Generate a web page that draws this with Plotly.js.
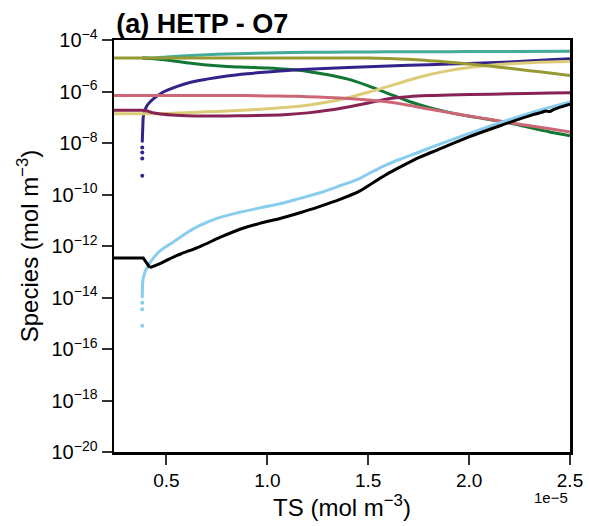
<!DOCTYPE html>
<html>
<head>
<meta charset="utf-8">
<script src="https://cdn.plot.ly/plotly-3.0.1.min.js"></script>
<style>html,body{margin:0;padding:0;background:#fff;}#chart{width:589px;height:526px;}</style>
</head>
<body>
<div id="chart"></div>
<script>
// x values are TS in units of 1e-5 mol m^-3; y values are species in mol m^-3
var xTicks = [0.5, 1.0, 1.5, 2.0, 2.5];
var xTickText = ['0.5', '1.0', '1.5', '2.0', '2.5'];
var yTicks = [1e-4, 1e-6, 1e-8, 1e-10, 1e-12, 1e-14, 1e-16, 1e-18, 1e-20];
var yTickText = ['10<sup>\u22124</sup>', '10<sup>\u22126</sup>', '10<sup>\u22128</sup>', '10<sup>\u221210</sup>', '10<sup>\u221212</sup>', '10<sup>\u221214</sup>', '10<sup>\u221216</sup>', '10<sup>\u221218</sup>', '10<sup>\u221220</sup>'];

var oliveX = [0.24, 0.4, 0.6, 0.8, 1.0, 1.2, 1.4, 1.5, 1.6, 1.7, 1.8, 1.9, 2.0, 2.1, 2.2, 2.3, 2.4, 2.5];
var oliveY = [2.0e-5, 2.0e-5, 2.0e-5, 2.0e-5, 2.0e-5, 2.0e-5, 2.0e-5, 2.0e-5, 1.91e-5, 1.78e-5, 1.58e-5, 1.38e-5, 1.17e-5, 9.77e-6, 7.94e-6, 6.46e-6, 5.25e-6, 4.17e-6];

var tealX = [0.38, 0.45, 0.5, 0.6, 0.7, 0.8, 0.9, 1.0, 1.2, 1.4, 1.6, 1.8, 2.0, 2.2, 2.5];
var tealY = [2.0e-5, 2.04e-5, 2.19e-5, 2.45e-5, 2.69e-5, 2.88e-5, 3.02e-5, 3.16e-5, 3.31e-5, 3.39e-5, 3.47e-5, 3.51e-5, 3.55e-5, 3.59e-5, 3.63e-5];

var greenX = [0.38, 0.45, 0.5, 0.6, 0.7, 0.8, 0.9, 1.0, 1.1, 1.2, 1.3, 1.4, 1.5, 1.6, 1.7, 1.8, 1.9, 2.0, 2.1, 2.2, 2.3, 2.4, 2.5];
var greenY = [2.0e-5, 1.82e-5, 1.66e-5, 1.32e-5, 1.07e-5, 9.33e-6, 8.71e-6, 8.13e-6, 7.24e-6, 6.03e-6, 4.47e-6, 3.02e-6, 1.66e-6, 8.32e-7, 4.17e-7, 2.40e-7, 1.55e-7, 1.10e-7, 8.13e-8, 6.03e-8, 3.98e-8, 2.69e-8, 1.91e-8];

var navyDotX = [0.38, 0.38, 0.38, 0.38];
var navyDotY = [5.37e-10, 2.51e-9, 4.27e-9, 6.76e-9];
var navyX = [0.38, 0.381, 0.383, 0.385, 0.39, 0.40, 0.41, 0.435, 0.48, 0.55, 0.62, 0.7, 0.8, 0.9, 1.0, 1.1, 1.2, 1.4, 1.6, 1.8, 2.0, 2.2, 2.4, 2.5];
var navyY = [1.05e-8, 1.91e-8, 4.68e-8, 1.00e-7, 1.58e-7, 2.51e-7, 3.31e-7, 5.13e-7, 9.12e-7, 1.55e-6, 2.29e-6, 3.02e-6, 3.98e-6, 4.90e-6, 5.75e-6, 6.61e-6, 7.24e-6, 8.51e-6, 9.77e-6, 1.10e-5, 1.23e-5, 1.41e-5, 1.70e-5, 1.86e-5];

var sandX = [0.24, 0.45, 0.5, 0.6, 0.7, 0.8, 0.9, 1.0, 1.1, 1.2, 1.3, 1.4, 1.5, 1.6, 1.7, 1.8, 1.9, 2.0, 2.1, 2.2, 2.3, 2.4, 2.5];
var sandY = [1.38e-7, 1.38e-7, 1.41e-7, 1.51e-7, 1.62e-7, 1.74e-7, 1.91e-7, 2.14e-7, 2.45e-7, 2.95e-7, 3.89e-7, 5.75e-7, 9.33e-7, 1.58e-6, 2.75e-6, 4.47e-6, 6.46e-6, 8.51e-6, 1.05e-5, 1.20e-5, 1.32e-5, 1.41e-5, 1.45e-5];

var wineX = [0.24, 0.38, 0.40, 0.43, 0.47, 0.55, 0.6, 0.7, 0.8, 0.9, 1.0, 1.1, 1.2, 1.3, 1.4, 1.5, 1.6, 1.7, 1.8, 1.9, 2.0, 2.2, 2.4, 2.5];
var wineY = [1.86e-7, 1.86e-7, 1.78e-7, 1.51e-7, 1.35e-7, 1.20e-7, 1.15e-7, 1.12e-7, 1.12e-7, 1.15e-7, 1.20e-7, 1.29e-7, 1.48e-7, 1.86e-7, 2.51e-7, 3.55e-7, 5.25e-7, 6.31e-7, 6.92e-7, 7.24e-7, 7.59e-7, 8.13e-7, 8.71e-7, 8.91e-7];

var roseX = [0.24, 0.8, 0.9, 1.0, 1.1, 1.2, 1.3, 1.4, 1.5, 1.6, 1.7, 1.8, 1.9, 2.0, 2.1, 2.2, 2.3, 2.4, 2.5];
var roseY = [6.92e-7, 6.92e-7, 6.92e-7, 6.76e-7, 6.61e-7, 6.31e-7, 5.89e-7, 5.37e-7, 4.68e-7, 3.89e-7, 2.95e-7, 2.09e-7, 1.51e-7, 1.12e-7, 8.32e-8, 6.17e-8, 4.68e-8, 3.55e-8, 2.69e-8];

var skyDotX = [0.38, 0.38, 0.38];
var skyDotY = [7.94e-16, 3.47e-15, 6.31e-15];
var skyX = [0.38, 0.385, 0.402, 0.428, 0.468, 0.527, 0.592, 0.666, 0.765, 0.864, 0.963, 1.063, 1.162, 1.261, 1.36, 1.459, 1.524, 1.593, 1.657, 1.756, 1.821, 1.99, 2.153, 2.317, 2.5];
var skyY = [9.55e-15, 5.75e-14, 1.41e-13, 2.88e-13, 6.46e-13, 1.32e-12, 2.95e-12, 6.31e-12, 1.29e-11, 2.04e-11, 3.02e-11, 4.37e-11, 7.08e-11, 1.17e-10, 2.19e-10, 4.27e-10, 7.94e-10, 1.45e-9, 2.34e-9, 4.57e-9, 7.24e-9, 2.19e-8, 6.17e-8, 1.58e-7, 3.89e-7];

// black: flat start with a small dip, then the rising part
var blackStartX = [0.24, 0.385, 0.418];
var blackStartY = [3.39e-13, 3.39e-13, 1.45e-13];
var blackX = [0.418, 0.468, 0.542, 0.666, 0.765, 0.864, 0.963, 1.063, 1.162, 1.261, 1.36, 1.459, 1.524, 1.593, 1.657, 1.756, 1.821, 1.99, 2.153, 2.317, 2.36, 2.38, 2.40, 2.42, 2.5];
var blackY = [1.45e-13, 2.09e-13, 3.98e-13, 9.55e-13, 2.14e-12, 4.47e-12, 7.59e-12, 1.17e-11, 1.95e-11, 3.47e-11, 6.46e-11, 1.38e-10, 2.88e-10, 6.17e-10, 1.15e-9, 2.82e-9, 4.57e-9, 1.62e-8, 4.68e-8, 1.26e-7, 1.55e-7, 1.74e-7, 1.66e-7, 2.04e-7, 3.24e-7];

var LW = 3;
function line(x, y, color, linear) {
  return {x: x, y: y, type: 'scatter', mode: 'lines',
    line: linear ? {color: color, width: LW, shape: 'linear'} : {color: color, width: LW, shape: 'spline', smoothing: 0.9},
    showlegend: false, hoverinfo: 'skip'};
}
function dots(x, y, color) {
  return {x: x, y: y, type: 'scatter', mode: 'markers', marker: {color: color, size: 4}, showlegend: false, hoverinfo: 'skip'};
}

var traces = [
  line(tealX, tealY, '#44AA99'),
  line(greenX, greenY, '#117733'),
  dots(navyDotX, navyDotY, '#332288'),
  line(navyX, navyY, '#332288'),
  line(sandX, sandY, '#DDCC77'),
  line(wineX, wineY, '#882255'),
  line(roseX, roseY, '#CC6677'),
  line(oliveX, oliveY, '#999933'),
  dots(skyDotX, skyDotY, '#88CCEE'),
  line(skyX, skyY, '#88CCEE'),
  line(blackStartX, blackStartY, '#000000', true),
  line(blackX, blackY, '#000000')
];

var FONT = 'Liberation Sans, Arial, Helvetica, sans-serif';
var layout = {
  width: 589, height: 526,
  margin: {l: 114, r: 19, t: 40, b: 74, pad: 0},
  paper_bgcolor: '#ffffff', plot_bgcolor: '#ffffff',
  font: {family: FONT, color: '#000000'},
  title: {
    text: '<b>(a) HETP - O7</b>',
    font: {family: FONT, size: 27, color: '#000000'},
    xref: 'paper', x: 0.005, xanchor: 'left',
    yref: 'container', y: 0.955, yanchor: 'middle'
  },
  xaxis: {
    range: [0.24, 2.5],
    tickvals: xTicks, ticktext: xTickText,
    ticks: 'outside', ticklen: 10, tickwidth: 2, tickcolor: '#333333',
    showline: true, linecolor: '#000000', linewidth: 2.5, mirror: true,
    showgrid: false, zeroline: false,
    tickfont: {family: FONT, size: 19, color: '#000000'},
    title: {text: 'TS (mol m<sup>\u22123</sup>)', font: {family: FONT, size: 24, color: '#000000'}, standoff: 8}
  },
  yaxis: {
    type: 'log', range: [-20, -4],
    tickvals: yTicks, ticktext: yTickText,
    ticks: 'outside', ticklen: 10, tickwidth: 2, tickcolor: '#333333',
    showline: true, linecolor: '#000000', linewidth: 2.5, mirror: true,
    showgrid: false, zeroline: false,
    tickfont: {family: FONT, size: 20, color: '#000000'},
    title: {text: 'Species (mol m<sup>\u22123</sup>)', font: {family: FONT, size: 24, color: '#000000'}, standoff: 6}
  },
  annotations: [{
    text: '1e\u22125', xref: 'paper', yref: 'paper', x: 1.0, y: -0.11,
    xanchor: 'right', yanchor: 'middle', showarrow: false,
    font: {family: FONT, size: 15, color: '#000000'}
  }]
};

Plotly.newPlot('chart', traces, layout, {displayModeBar: false, staticPlot: true});
</script>
</body>
</html>
